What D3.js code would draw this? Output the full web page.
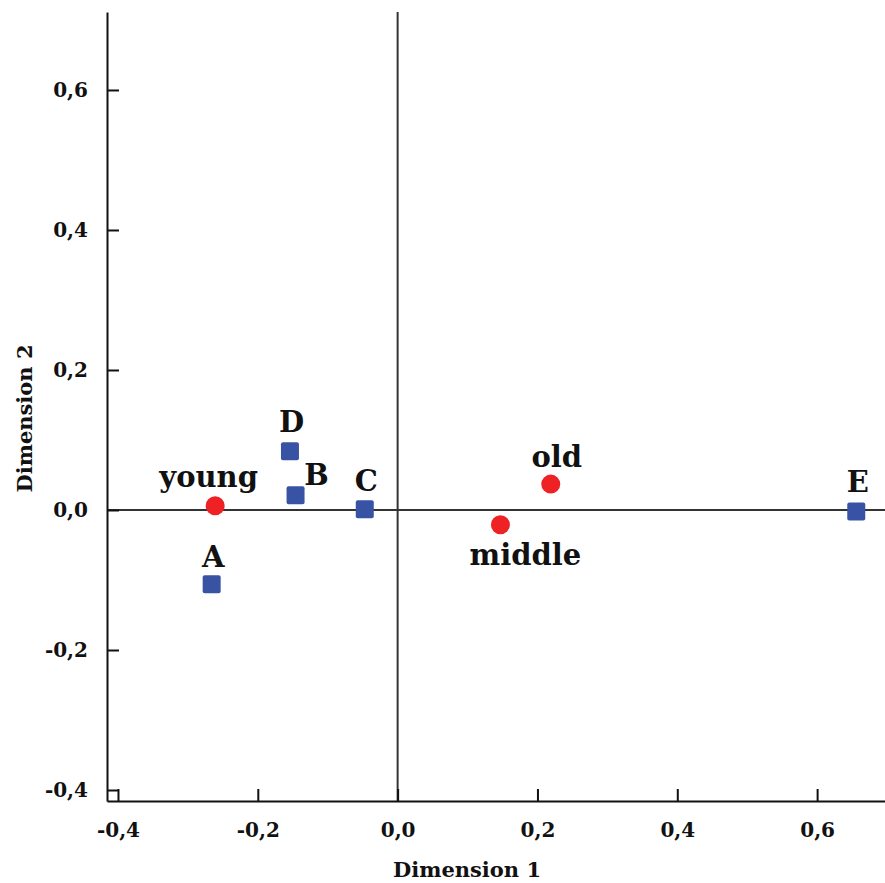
<!DOCTYPE html>
<html><head><meta charset="utf-8">
<script src="https://cdn.jsdelivr.net/npm/d3@7"></script>
<style>body{margin:0;background:#fff}svg{display:block}text{font-family:"DejaVu Serif","Liberation Serif",serif;font-weight:bold;fill:#111}</style>
</head><body>
<svg id="c" width="885" height="883"></svg>
<script>
// Data
const ageNames = ["young", "middle", "old"];
const ageDim1 = [-0.261, 0.147, 0.219];
const ageDim2 = [0.006, -0.021, 0.037];
const catNames = ["A", "B", "C", "D", "E"];
const catDim1 = [-0.266, -0.146, -0.047, -0.154, 0.656];
const catDim2 = [-0.106, 0.021, 0.001, 0.084, -0.002];
const tickValues = [-0.4, -0.2, 0.0, 0.2, 0.4, 0.6];
const xTitle = "Dimension 1", yTitle = "Dimension 2";

// label offsets (layout)
const ageLabelOff = {young: [-6.5, -19], middle: [25, 40], old: [6, -17]};
const catLabelOff = {A: [1.5, -17], B: [21, -10], C: [1.5, -18], D: [1.5, -19], E: [1.5, -19]};

const svg = d3.select("#c");
const L = 107, R = 885, T = 12, B = 801;
const x = d3.scaleLinear().domain([-0.4157, 0.6971]).range([L, R]);
const y = d3.scaleLinear().domain([-0.4157, 0.7114]).range([B, T]);
const fmt = d => d.toFixed(1).replace(".", ",");

const g = svg.append("g");
// crosshair
g.append("line").attr("x1", x(0)).attr("x2", x(0)).attr("y1", T).attr("y2", B).attr("stroke", "#333").attr("stroke-width", 2);
g.append("line").attr("x1", L).attr("x2", R).attr("y1", y(0)).attr("y2", y(0)).attr("stroke", "#333").attr("stroke-width", 2);

// axes
const xAxis = svg.append("g").attr("transform", `translate(0,${B})`)
  .call(d3.axisBottom(x).tickValues(tickValues).tickFormat(fmt).tickSizeInner(-12).tickSizeOuter(0).tickPadding(22));
const yAxis = svg.append("g").attr("transform", `translate(${L},0)`)
  .call(d3.axisLeft(y).tickValues(tickValues).tickFormat(fmt).tickSizeInner(-12).tickSizeOuter(0).tickPadding(19));
[xAxis, yAxis].forEach(a => {
  a.select(".domain").attr("stroke", "#111").attr("stroke-width", 2);
  a.selectAll(".tick line").attr("stroke", "#111").attr("stroke-width", 2);
  a.selectAll(".tick text").style("font-size", "20px").style("font-family", "'DejaVu Serif',serif").style("font-weight", "bold").attr("fill", "#111");
});
svg.append("text").attr("x", 467).attr("y", 877).attr("text-anchor", "middle").style("font-size", "21px").text(xTitle);
svg.append("text").attr("transform", `translate(32,${(T + B) / 2 + 12}) rotate(-90)`).attr("text-anchor", "middle").style("font-size", "21px").text(yTitle);

// squares
const cats = catNames.map((n, i) => ({n, a: catDim1[i], b: catDim2[i]}));
const ages = ageNames.map((n, i) => ({n, a: ageDim1[i], b: ageDim2[i]}));
const s = 18;
svg.selectAll("rect.cat").data(cats).enter().append("rect").attr("class", "cat")
  .attr("x", d => x(d.a) - s / 2).attr("y", d => y(d.b) - s / 2).attr("width", s).attr("height", s)
  .attr("rx", 2).attr("fill", "#3953a4");
svg.selectAll("circle.age").data(ages).enter().append("circle").attr("class", "age")
  .attr("cx", d => x(d.a)).attr("cy", d => y(d.b)).attr("r", 9.5).attr("fill", "#ee2224");

svg.selectAll("text.cl").data(cats).enter().append("text").attr("class", "cl")
  .attr("x", d => x(d.a) + catLabelOff[d.n][0]).attr("y", d => y(d.b) + catLabelOff[d.n][1])
  .attr("text-anchor", "middle").style("font-size", "29px").text(d => d.n);
svg.selectAll("text.al").data(ages).enter().append("text").attr("class", "al")
  .attr("x", d => x(d.a) + ageLabelOff[d.n][0]).attr("y", d => y(d.b) + ageLabelOff[d.n][1])
  .attr("text-anchor", "middle").style("font-size", "29px").text(d => d.n);
</script>
</body></html>
